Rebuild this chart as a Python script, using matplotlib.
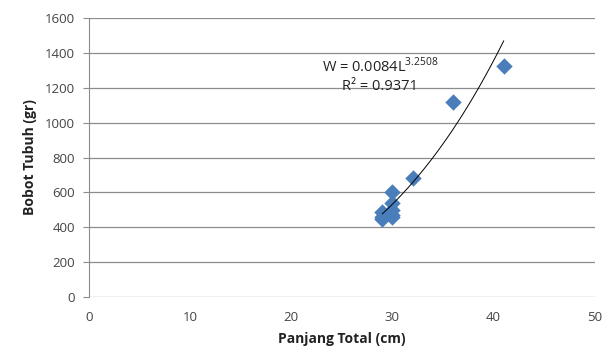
import numpy as np
import matplotlib
matplotlib.use("Agg")
import matplotlib.pyplot as plt

plt.rcParams['font.family'] = ['Open Sans', 'DejaVu Sans']
plt.rcParams['mathtext.fontset'] = 'custom'
plt.rcParams['mathtext.rm'] = 'Open Sans'

panjang = [29, 29, 29, 30, 30, 30, 30, 30, 32, 36, 41]
bobot = [490, 460, 450, 600, 540, 500, 470, 460, 680, 1120, 1325]
coef_a = 0.0084
coef_b = 3.2508
r2 = 0.9371
x_ticks = [0, 10, 20, 30, 40, 50]
y_ticks = [0, 200, 400, 600, 800, 1000, 1200, 1400, 1600]

fig = plt.figure(figsize=(6.05, 3.56), dpi=100)
ax = fig.add_axes([0.147, 0.166, 0.836, 0.783])

for yt in y_ticks:
    ax.axhline(yt, color='#8c8c8c', lw=0.9, zorder=0)

ax.scatter(panjang, bobot, marker='D', s=70, color='#4a7ebb', zorder=3, linewidths=0)

xs = np.linspace(min(panjang), max(panjang), 100)
ax.plot(xs, coef_a * xs ** coef_b, color='black', lw=0.7, zorder=4)

ax.text(28.8, 1325, r'W = 0.0084L$^{\mathrm{3.2508}}$', ha='center', va='center', fontsize=10.5, color='#222222')
ax.text(28.8, 1210, 'R² = %.4f' % r2, ha='center', va='center', fontsize=10.5, color='#222222')

ax.set_xlim(0, 50)
ax.set_ylim(0, 1600)
ax.set_xticks(x_ticks)
ax.set_yticks(y_ticks)
ax.tick_params(axis='x', length=0, pad=10, labelsize=9.5, colors='#444444')
ax.tick_params(axis='y', length=4, pad=6, labelsize=9.5, colors='#444444', color='#8c8c8c')
for s in ['top', 'right', 'bottom']:
    ax.spines[s].set_visible(False)
ax.spines['left'].set_color('#8c8c8c')

ax.set_xlabel('Panjang Total (cm)', fontsize=10, fontweight='bold', color='#222222', labelpad=6)
ax.set_ylabel('Bobot Tubuh (gr)', fontsize=10, fontweight='bold', color='#222222', labelpad=6)

fig.savefig('out.png', dpi=100)
